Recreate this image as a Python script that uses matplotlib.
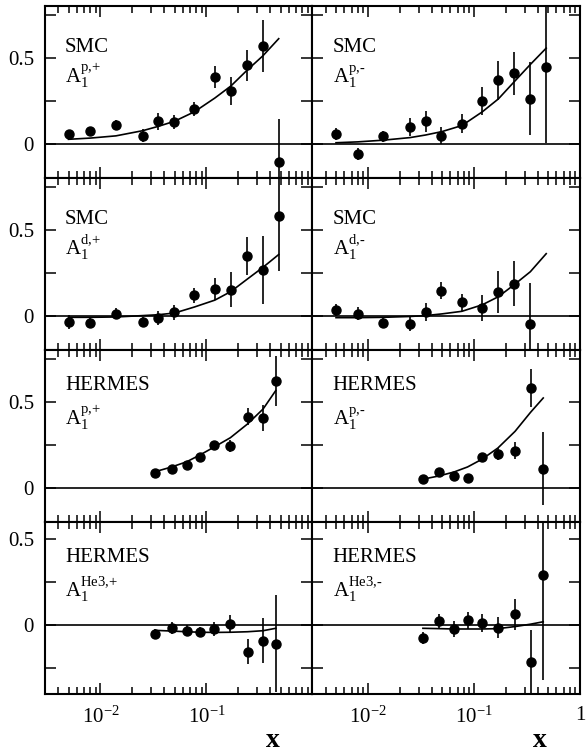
import matplotlib
matplotlib.use('Agg')
import matplotlib.pyplot as plt
from matplotlib import ticker

plt.rcParams['font.family'] = 'Liberation Serif'
plt.rcParams['mathtext.fontset'] = 'custom'
plt.rcParams['mathtext.rm'] = 'Liberation Serif'
plt.rcParams['mathtext.it'] = 'Liberation Serif:italic'

# x bins
smc_x = [0.005, 0.008, 0.014, 0.025, 0.035, 0.049, 0.077, 0.12, 0.17, 0.24, 0.34, 0.48]
hermes_x = [0.033, 0.047, 0.065, 0.087, 0.119, 0.168, 0.244, 0.342, 0.45]
curve_x_smc = [0.005, 0.008, 0.014, 0.025, 0.035, 0.05, 0.077, 0.12, 0.17, 0.24, 0.34, 0.48]

# SMC proton, h+
smc_pp_y = [0.054, 0.072, 0.107, 0.047, 0.13, 0.126, 0.20, 0.388, 0.306, 0.455, 0.566, -0.107]
smc_pp_err = [0.025, 0.02, 0.03, 0.035, 0.05, 0.04, 0.04, 0.065, 0.08, 0.09, 0.15, 0.25]
smc_pp_curve = [0.025, 0.032, 0.045, 0.075, 0.10, 0.13, 0.185, 0.265, 0.335, 0.425, 0.51, 0.61]

# SMC proton, h-
smc_pm_y = [0.054, -0.058, 0.042, 0.096, 0.129, 0.046, 0.115, 0.248, 0.367, 0.408, 0.262, 0.444]
smc_pm_err = [0.035, 0.035, 0.03, 0.05, 0.06, 0.05, 0.055, 0.08, 0.115, 0.125, 0.21, 0.44]
smc_pm_curve = [0.005, 0.01, 0.02, 0.035, 0.05, 0.07, 0.105, 0.185, 0.26, 0.36, 0.46, 0.555]

# SMC deuteron, h+
smc_dp_y = [-0.037, -0.043, 0.012, -0.037, -0.014, 0.019, 0.118, 0.155, 0.151, 0.345, 0.265, 0.578]
smc_dp_err = [0.04, 0.03, 0.03, 0.03, 0.04, 0.045, 0.045, 0.065, 0.1, 0.11, 0.2, 0.32]
smc_dp_curve = [-0.01, -0.01, -0.008, 0.0, 0.005, 0.015, 0.05, 0.09, 0.14, 0.21, 0.28, 0.355]

# SMC deuteron, h-
smc_dm_y = [0.031, 0.012, -0.042, -0.048, 0.021, 0.144, 0.077, 0.044, 0.137, 0.185, -0.048]
smc_dm_err = [0.035, 0.04, 0.03, 0.04, 0.055, 0.05, 0.05, 0.075, 0.12, 0.13, 0.24]
smc_dm_curve = [-0.012, -0.012, -0.01, -0.005, 0.0, 0.01, 0.025, 0.063, 0.11, 0.18, 0.255, 0.36]

# HERMES proton, h+
her_pp_y = [0.084, 0.109, 0.134, 0.179, 0.247, 0.241, 0.412, 0.403, 0.619]
her_pp_err = [0.012, 0.012, 0.013, 0.015, 0.02, 0.035, 0.05, 0.075, 0.145]
her_pp_curve = [0.093, 0.12, 0.15, 0.19, 0.237, 0.29, 0.37, 0.457, 0.564]

# HERMES proton, h-
her_pm_y = [0.049, 0.093, 0.066, 0.058, 0.179, 0.195, 0.214, 0.578, 0.111]
her_pm_err = [0.015, 0.015, 0.015, 0.015, 0.02, 0.035, 0.05, 0.11, 0.21]
her_pm_curve = [0.049, 0.068, 0.091, 0.12, 0.165, 0.23, 0.327, 0.438, 0.521]

# HERMES He3, h+
her_hp_y = [-0.052, -0.014, -0.031, -0.039, -0.023, 0.008, -0.153, -0.091, -0.107]
her_hp_err = [0.03, 0.035, 0.03, 0.03, 0.04, 0.05, 0.07, 0.13, 0.28]
her_hp_curve = [-0.03, -0.034, -0.038, -0.041, -0.042, -0.041, -0.038, -0.032, -0.018]

# HERMES He3, h-
her_hm_y = [-0.076, 0.023, -0.021, 0.029, 0.013, -0.015, 0.065, -0.216, 0.294]
her_hm_err = [0.035, 0.04, 0.045, 0.05, 0.05, 0.06, 0.09, 0.19, 0.614]
her_hm_curve = [-0.018, -0.02, -0.022, -0.022, -0.022, -0.02, -0.008, 0.006, 0.02]

panels = [
    ('SMC', r'$\mathrm{A}_{1}^{\text{p,+}}$', smc_x, smc_pp_y, smc_pp_err, curve_x_smc, smc_pp_curve),
    ('SMC', r'$\mathrm{A}_{1}^{\text{p,-}}$', smc_x, smc_pm_y, smc_pm_err, curve_x_smc, smc_pm_curve),
    ('SMC', r'$\mathrm{A}_{1}^{\text{d,+}}$', smc_x, smc_dp_y, smc_dp_err, curve_x_smc, smc_dp_curve),
    ('SMC', r'$\mathrm{A}_{1}^{\text{d,-}}$', smc_x[:11], smc_dm_y, smc_dm_err, curve_x_smc, smc_dm_curve),
    ('HERMES', r'$\mathrm{A}_{1}^{\text{p,+}}$', hermes_x, her_pp_y, her_pp_err, hermes_x, her_pp_curve),
    ('HERMES', r'$\mathrm{A}_{1}^{\text{p,-}}$', hermes_x, her_pm_y, her_pm_err, hermes_x, her_pm_curve),
    ('HERMES', r'$\mathrm{A}_{1}^{\text{He3,+}}$', hermes_x, her_hp_y, her_hp_err, hermes_x, her_hp_curve),
    ('HERMES', r'$\mathrm{A}_{1}^{\text{He3,-}}$', hermes_x, her_hm_y, her_hm_err, hermes_x, her_hm_curve),
]
row_ylims = [(-0.2, 0.8), (-0.2, 0.8), (-0.2, 0.8), (-0.4, 0.6)]

fig, axes = plt.subplots(4, 2, figsize=(5.87, 7.56), dpi=100)
fig.subplots_adjust(left=45/587, right=580/587, top=1-6/756, bottom=1-694/756,
                    wspace=0, hspace=0)

def ylab(v, pos):
    if abs(v) < 1e-9:
        return '0'
    if abs(v - 0.5) < 1e-9:
        return '0.5'
    return ''

for i, ax in enumerate(axes.flat):
    row, col = divmod(i, 2)
    name, alabel, x, y, err, cx, cy = panels[i]
    ax.set_xscale('log')
    ax.set_xlim(0.003, 1)
    ax.set_ylim(*row_ylims[row])
    ax.axhline(0, color='black', lw=1.2, zorder=1)
    ax.plot(cx, cy, color='black', lw=1.2, zorder=2)
    ax.errorbar(x, y, yerr=err, fmt='o', color='black', ms=6.5, elinewidth=1.2,
                capsize=0, zorder=3)
    ty = 0.735 if name == 'SMC' else 0.765
    ay = 0.555 if name == 'SMC' else 0.565
    ax.text(0.075, ty, name, transform=ax.transAxes, fontsize=15, va='baseline')
    ax.text(0.075, ay, alabel, transform=ax.transAxes, fontsize=15, va='baseline')

    ax.yaxis.set_major_locator(ticker.MultipleLocator(0.25))
    ax.xaxis.set_major_locator(ticker.FixedLocator([0.01, 0.1, 1]))
    ax.xaxis.set_minor_locator(ticker.LogLocator(base=10, subs=range(2, 10), numticks=20))
    ax.xaxis.set_minor_formatter(ticker.NullFormatter())
    ax.tick_params(which='both', direction='in', top=True, right=True, width=1.1)
    ax.tick_params(which='major', length=8, labelsize=15)
    ax.tick_params(which='minor', length=5)
    ax.tick_params(axis='y', pad=8)
    ax.tick_params(axis='x', pad=9)
    for s in ax.spines.values():
        s.set_linewidth(1.5)

    if col == 0:
        ax.yaxis.set_major_formatter(ticker.FuncFormatter(ylab))
    else:
        ax.yaxis.set_major_formatter(ticker.NullFormatter())

    if row == 3:
        if col == 0:
            xl = [r'$10^{-2}$', r'$10^{-1}$', '']
        else:
            xl = [r'$10^{-2}$', r'$10^{-1}$', '1']
        ax.xaxis.set_major_formatter(ticker.FixedFormatter(xl))
        ax.text(0.85, -0.27, 'x', transform=ax.transAxes, fontsize=20,
                fontweight='bold', ha='center', va='center')
    else:
        ax.xaxis.set_major_formatter(ticker.NullFormatter())

fig.savefig('out.png', dpi=100)
